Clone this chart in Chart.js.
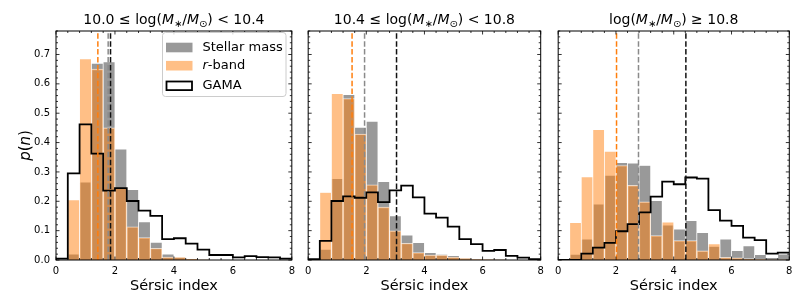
<!DOCTYPE html>
<html>
<head>
<meta charset="utf-8">
<script src="https://cdn.jsdelivr.net/npm/chart.js@4.4.0/dist/chart.umd.min.js"></script>
<style>
  body { margin: 0; background: #fff; width: 806px; height: 307px; overflow: hidden; position: relative; }
  canvas { position: absolute; top: 0; }
</style>
</head>
<body>
<canvas id="panelLow" width="300" height="307" style="left:0px"></canvas>
<canvas id="panelMid" width="250" height="307" style="left:300px"></canvas>
<canvas id="panelHigh" width="256" height="307" style="left:550px"></canvas>
<script>
  // Histogram bins (Sersic index), width 0.4
  const binCenters = [0.2, 0.6, 1.0, 1.4, 1.8, 2.2, 2.6, 3.0, 3.4, 3.8, 4.2, 4.6, 5.0, 5.4, 5.8, 6.2, 6.6, 7.0, 7.4, 7.8];
  const binEdges = [0, 0.4, 0.8, 1.2, 1.6, 2.0, 2.4, 2.8, 3.2, 3.6, 4.0, 4.4, 4.8, 5.2, 5.6, 6.0, 6.4, 6.8, 7.2, 7.6, 8.0];

  // 10.0 <= log M < 10.4
  const stellarLow = [0, 0.02, 0.265, 0.67, 0.675, 0.378, 0.24, 0.13, 0.06, 0.02, 0.01, 0.003, 0.001, 0, 0, 0, 0, 0, 0, 0];
  const rbandLow = [0, 0.205, 0.685, 0.65, 0.45, 0.245, 0.113, 0.076, 0.04, 0.01, 0.01, 0.005, 0.001, 0, 0, 0, 0, 0, 0, 0];
  const gamaLow = [0.005, 0.295, 0.462, 0.362, 0.236, 0.245, 0.201, 0.168, 0.15, 0.071, 0.074, 0.056, 0.035, 0.017, 0.017, 0.009, 0.013, 0.01, 0.009, 0.005];
  const mediansLow = [1.42, 1.77, 1.85]; // r-band, stellar mass, GAMA

  // 10.4 <= log M < 10.8
  const stellarMid = [0, 0.036, 0.277, 0.563, 0.452, 0.472, 0.267, 0.15, 0.085, 0.059, 0.025, 0.019, 0.015, 0.008, 0.004, 0.002, 0.001, 0, 0, 0];
  const rbandMid = [0, 0.23, 0.567, 0.55, 0.429, 0.256, 0.18, 0.099, 0.057, 0.025, 0.017, 0.017, 0.01, 0.006, 0.003, 0.002, 0.001, 0, 0, 0];
  const gamaMid = [0.003, 0.065, 0.201, 0.217, 0.212, 0.23, 0.197, 0.237, 0.253, 0.213, 0.158, 0.144, 0.114, 0.071, 0.054, 0.031, 0.034, 0.014, 0.008, 0.003];
  const mediansMid = [1.51, 1.94, 3.04];

  // log M >= 10.8
  const stellarHigh = [0, 0.019, 0.071, 0.19, 0.288, 0.332, 0.33, 0.322, 0.202, 0.119, 0.105, 0.134, 0.093, 0.046, 0.071, 0.032, 0.048, 0.018, 0.008, 0.02];
  const rbandHigh = [0.002, 0.127, 0.283, 0.444, 0.37, 0.322, 0.254, 0.198, 0.083, 0.129, 0.066, 0.066, 0.031, 0.055, 0.009, 0.007, 0.005, 0.003, 0.001, 0.001];
  const gamaHigh = [0, 0, 0.022, 0.042, 0.058, 0.098, 0.122, 0.162, 0.216, 0.267, 0.258, 0.281, 0.277, 0.17, 0.134, 0.116, 0.076, 0.068, 0.022, 0.025];
  const mediansHigh = [2.02, 2.78, 4.42];

  const xTickValues = [0, 2, 4, 6, 8];
  const yTickValues = [0.0, 0.1, 0.2, 0.3, 0.4, 0.5, 0.6, 0.7];
  const yMax = 0.78;

  const seriesLabels = ['Stellar mass', 'r-band', 'GAMA'];
  const FONT = '"DejaVu Sans", sans-serif';
  const GRAY = 'rgba(128,128,128,0.8)';
  const ORANGE = 'rgba(255,127,14,0.5)';

  function drawMath(ctx, parts, cx, baseline, size) {
    const fontFor = k => k === 'i' ? `italic ${size}px ${FONT}` : k === 's' ? `${size * 0.7}px ${FONT}` : `${size}px ${FONT}`;
    let total = 0;
    const widths = parts.map(([t, k]) => { ctx.font = fontFor(k); const w = ctx.measureText(t).width; total += w; return w; });
    let x = cx - total / 2;
    ctx.textAlign = 'left';
    ctx.textBaseline = 'alphabetic';
    parts.forEach(([t, k], i) => {
      ctx.font = fontFor(k);
      ctx.fillText(t, x, baseline + (k === 's' ? size * 0.22 : 0));
      x += widths[i];
    });
  }

  const decor = {
    id: 'decor',
    afterDatasetsDraw(chart, args, o) {
      const { ctx, chartArea: a, scales: { x, y } } = chart;
      ctx.save();
      ctx.strokeStyle = '#000';
      ctx.lineWidth = 0.8;
      ctx.beginPath();
      // inward ticks on all four sides
      for (let i = 0; i <= 20; i++) {
        const px = x.getPixelForValue(i * 0.4);
        const len = i % 5 === 0 ? 3.5 : 2;
        ctx.moveTo(px, a.bottom); ctx.lineTo(px, a.bottom - len);
        ctx.moveTo(px, a.top); ctx.lineTo(px, a.top + len);
      }
      for (let i = 0; i <= 39; i++) {
        const py = y.getPixelForValue(i * 0.02);
        const len = i % 5 === 0 ? 3.5 : 2;
        ctx.moveTo(a.left, py); ctx.lineTo(a.left + len, py);
        ctx.moveTo(a.right, py); ctx.lineTo(a.right - len, py);
      }
      ctx.stroke();
      ctx.lineWidth = 1;
      ctx.strokeRect(a.left, a.top, a.right - a.left, a.bottom - a.top);

      ctx.fillStyle = '#000';
      const cx = (a.left + a.right) / 2;
      drawMath(ctx, o.title, cx, 24, 14);

      ctx.font = `14.5px ${FONT}`;
      ctx.textAlign = 'center';
      ctx.textBaseline = 'alphabetic';
      ctx.fillText('Sérsic index', cx, 290);

      if (o.yLabel) {
        ctx.save();
        ctx.translate(30, (a.top + a.bottom) / 2);
        ctx.rotate(-Math.PI / 2);
        drawMath(ctx, [['p', 'i'], ['(', 'n'], ['n', 'i'], [')', 'n']], 0, 0, 15);
        ctx.restore();
      }

      if (o.legend) {
        const ds = chart.data.datasets;
        ctx.beginPath();
        ctx.roundRect(162.5, 32.5, 123.5, 64, 3);
        ctx.fillStyle = 'rgba(255,255,255,0.8)';
        ctx.fill();
        ctx.strokeStyle = '#cccccc';
        ctx.lineWidth = 1;
        ctx.stroke();
        const rows = [47.5, 65.7, 85.8];
        ctx.font = `13px ${FONT}`;
        ctx.fillStyle = ds[0].backgroundColor;
        ctx.fillRect(166, rows[0] - 4.8, 26.5, 9.6);
        ctx.fillStyle = ds[1].backgroundColor;
        ctx.fillRect(166, rows[1] - 4.8, 26.5, 9.6);
        ctx.strokeStyle = '#000';
        ctx.lineWidth = 1.8;
        ctx.strokeRect(166.5, rows[2] - 4.3, 25.5, 8.6);
        ctx.fillStyle = '#000';
        ctx.textBaseline = 'middle';
        ctx.textAlign = 'left';
        ctx.fillText(ds[0].label, 202.5, rows[0]);
        ctx.font = `italic 13px ${FONT}`;
        ctx.fillText('r', 202.5, rows[1]);
        const rw = ctx.measureText('r').width;
        ctx.font = `13px ${FONT}`;
        ctx.fillText(ds[1].label.slice(1), 202.5 + rw, rows[1]);
        ctx.fillText(ds[2].label, 202.5, rows[2]);
      }
      ctx.restore();
    }
  };

  function histPoints(values) {
    return binCenters.map((c, i) => ({ x: c, y: values[i] }));
  }

  // step outline: each bin value is held from its left edge to the next edge
  function stepPoints(values) {
    const pts = [{ x: binEdges[0], y: 0 }];
    values.forEach((v, i) => { pts.push({ x: binEdges[i + 1], y: v }); });
    return pts;
  }

  function vline(v, color, order) {
    return {
      type: 'line', data: [{ x: v, y: 0 }, { x: v, y: yMax }],
      borderColor: color, borderWidth: 1.5, borderDash: [5.5, 2.4],
      pointRadius: 0, order: order
    };
  }

  function makePanel(id, cfg) {
    return new Chart(document.getElementById(id), {
      type: 'bar',
      data: {
        datasets: [
          {
            label: seriesLabels[0], data: histPoints(cfg.stellar),
            backgroundColor: GRAY, borderColor: 'rgba(255,255,255,0.75)', borderWidth: 0.7, order: 6
          },
          {
            label: seriesLabels[1], data: histPoints(cfg.rband),
            backgroundColor: ORANGE, borderColor: 'rgba(255,255,255,0.75)', borderWidth: 0.7, order: 5
          },
          {
            type: 'line', label: seriesLabels[2], data: stepPoints(cfg.gama),
            stepped: 'after', borderColor: '#000', borderWidth: 1.8, pointRadius: 0, fill: false, order: 4
          },
          vline(cfg.medians[0], '#ff7f0e', 3),
          vline(cfg.medians[1], '#8a8a8a', 2),
          vline(cfg.medians[2], '#111', 1)
        ]
      },
      options: {
        responsive: false,
        animation: false,
        devicePixelRatio: 1,
        grouped: false,
        barPercentage: 1,
        categoryPercentage: 1,
        layout: { padding: { left: 0, right: cfg.padRight, top: 31, bottom: 0 } },
        scales: {
          x: {
            type: 'linear', min: 0, max: 8, offset: false,
            grid: { display: false, drawTicks: false, offset: false },
            border: { display: false },
            afterBuildTicks: s => { s.ticks = xTickValues.map(v => ({ value: v })); },
            afterFit: s => { s.height = 47; },
            ticks: { color: '#000', font: { family: FONT, size: 10 }, padding: 5, maxRotation: 0, callback: v => String(v) }
          },
          y: {
            min: 0, max: yMax,
            grid: { display: false, drawTicks: false },
            border: { display: false },
            afterBuildTicks: s => { s.ticks = yTickValues.map(v => ({ value: v })); },
            afterFit: s => { s.width = cfg.yWidth; },
            ticks: { display: cfg.showY, color: '#000', font: { family: FONT, size: 10 }, padding: 6, callback: v => v.toFixed(1) }
          }
        },
        plugins: {
          legend: { display: false },
          tooltip: { enabled: false },
          decor: { title: cfg.title, yLabel: cfg.showY, legend: cfg.legend }
        }
      },
      plugins: [decor]
    });
  }

  makePanel('panelLow', {
    stellar: stellarLow, rband: rbandLow, gama: gamaLow, medians: mediansLow,
    yWidth: 56, padRight: 6.7, showY: true, legend: true,
    title: [['10.0 ≤ log(', 'n'], ['M', 'i'], ['∗', 's'], ['/', 'n'], ['M', 'i'], ['⊙', 's'], [') < 10.4', 'n']]
  });
  makePanel('panelMid', {
    stellar: stellarMid, rband: rbandMid, gama: gamaMid, medians: mediansMid,
    yWidth: 4.3, padRight: 9.3, showY: false, legend: false,
    title: [['10.4 ≤ log(', 'n'], ['M', 'i'], ['∗', 's'], ['/', 'n'], ['M', 'i'], ['⊙', 's'], [') < 10.8', 'n']]
  });
  makePanel('panelHigh', {
    stellar: stellarHigh, rband: rbandHigh, gama: gamaHigh, medians: mediansHigh,
    yWidth: 3.3, padRight: 16.7, showY: false, legend: false,
    title: [['log(', 'n'], ['M', 'i'], ['∗', 's'], ['/', 'n'], ['M', 'i'], ['⊙', 's'], [') ≥ 10.8', 'n']]
  });
</script>
</body>
</html>
